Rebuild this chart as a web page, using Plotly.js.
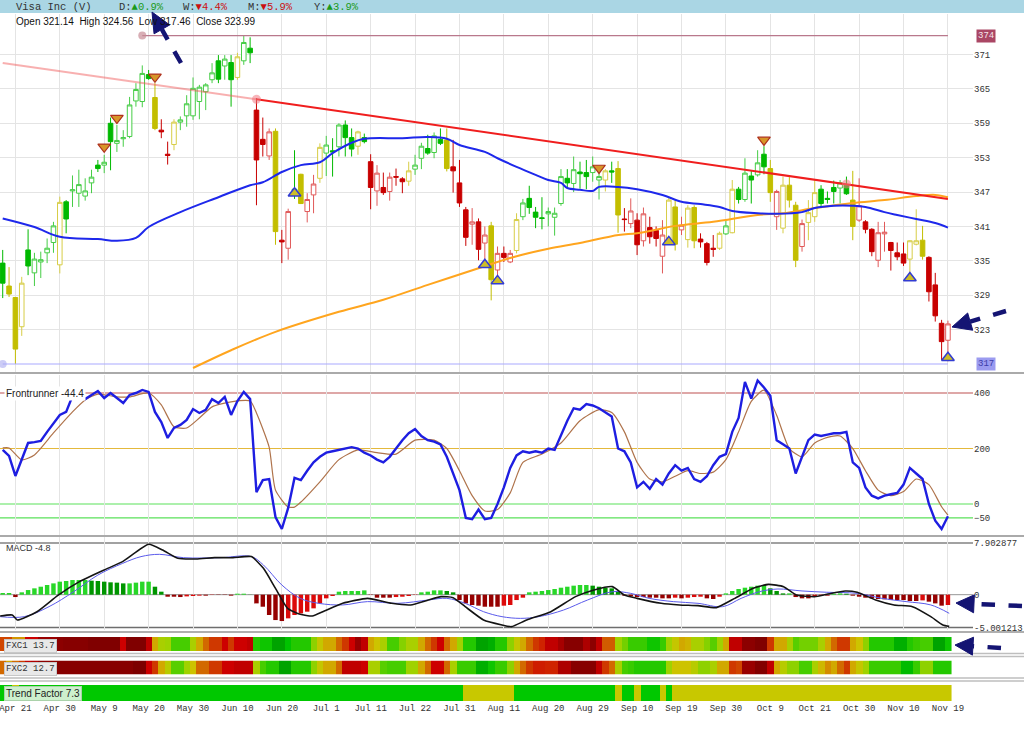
<!DOCTYPE html>
<html><head><meta charset="utf-8">
<script src="https://cdn.plot.ly/plotly-3.0.1.min.js"></script>
<style>html,body{margin:0;padding:0;background:#fff}#chart{width:1024px;height:735px}</style>
</head><body><div id="chart"></div>
<script>
// ---------------- DATA ----------------
const tickIdx = [2,9,16,23,30,37,44,51,58,65,72,79,86,93,100,107,114,121,128,135,142,149];
const tickLabels = ['Apr 21','Apr 30','May 9','May 20','May 30','Jun 10','Jun 20','Jul 1','Jul 11','Jul 22','Jul 31','Aug 11','Aug 20','Aug 29','Sep 10','Sep 19','Sep 30','Oct 9','Oct 21','Oct 30','Nov 10','Nov 19'];

const openP = [334.6,330.6,328.6,323.5,336.9,332.9,334.8,336.4,338.2,334.3,
345.3,347.2,346.8,346.3,348.6,351.7,351.7,359.0,355.5,356.3,
356.7,362.9,362.8,367.5,363.5,357.8,353.6,355.3,359.2,360.3,
360.3,362.8,364.5,366.6,369.9,369.0,369.6,367.0,369.9,372.1,
361.3,356.2,353.3,357.6,338.6,337.2,347.5,350.1,343.6,346.5,
349.4,353.8,354.2,354.9,358.7,356.5,355.0,356.5,352.3,347.2,
347.8,347.1,349.7,349.3,348.9,351.0,352.9,354.6,353.9,356.2,
356.1,351.4,348.6,343.9,341.4,341.8,338.1,341.1,333.4,336.3,
334.8,336.8,342.7,345.9,343.5,342.5,343.2,342.6,345.0,349.4,
348.5,350.5,350.4,350.4,349.1,349.1,350.7,351.1,342.3,341.5,
342.1,338.5,340.8,340.3,335.8,338.9,344.4,340.4,338.7,344.3,
338.8,338.0,337.2,337.2,339.7,339.9,347.5,345.7,349.8,350.0,
353.6,351.1,342.7,340.7,348.2,344.7,337.5,341.7,342.7,347.5,
345.9,347.8,347.7,348.2,345.6,342.1,341.8,340.5,335.1,339.7,
338.2,336.4,336.2,335.3,337.9,338.6,335.6,330.8,324.1,321.14];
const highP = [336.9,333.9,328.7,332.2,340.5,336.4,336.6,338.9,341.8,346.2,
345.6,349.9,350.9,349.4,350.9,352.6,353.5,360.0,358.7,357.8,
363.6,366.0,369.1,368.3,366.0,359.7,355.8,359.7,360.2,363.9,
367.0,365.7,366.0,369.5,370.9,370.9,370.9,371.3,374.3,374.0,
363.4,360.0,358.1,358.1,340.4,344.1,354.3,350.2,346.8,350.0,
355.5,356.8,356.4,359.0,359.5,358.1,357.7,357.2,353.6,351.7,
350.4,350.4,351.1,349.6,352.3,353.5,355.6,357.0,357.4,358.1,
358.1,356.1,352.6,344.4,344.2,342.4,341.0,341.8,337.5,337.5,
336.9,343.3,345.8,348.1,344.4,346.1,344.3,344.3,351.0,351.0,
353.2,352.3,352.6,353.2,351.5,351.0,352.3,352.4,344.2,345.9,
343.3,344.3,342.7,341.0,342.1,346.2,345.6,342.7,344.7,344.7,
339.8,338.3,339.5,340.1,342.1,349.1,347.9,352.9,350.8,354.3,
355.0,352.6,347.4,349.7,349.6,345.3,342.2,345.6,349.1,348.2,
347.1,349.0,349.1,349.7,350.7,349.4,342.1,340.7,341.8,341.8,
338.3,338.2,338.2,338.6,344.0,341.1,335.8,332.9,324.7,324.56];
const lowP = [328.5,328.7,317.0,321.9,332.5,330.6,332.0,334.6,336.4,332.8,
339.8,344.4,344.4,345.5,346.8,350.5,350.3,350.8,354.0,354.9,
356.4,361.9,361.8,366.6,357.8,356.4,351.8,354.3,357.8,358.4,
359.6,359.7,361.3,366.0,366.0,366.6,361.9,366.6,369.2,369.5,
344.7,353.2,352.6,337.8,334.6,335.2,345.8,344.9,341.7,343.3,
348.6,349.8,349.7,353.2,353.2,353.2,353.5,355.5,344.0,344.6,
346.5,345.5,348.1,346.8,348.1,350.0,351.0,353.5,352.9,355.2,
350.6,346.9,344.4,337.6,337.8,335.1,335.1,328.1,332.2,334.8,
334.6,336.3,342.1,343.2,340.7,340.5,341.0,339.4,344.6,347.6,
347.0,347.6,347.5,348.8,345.7,347.1,348.6,339.9,340.1,340.7,
336.0,337.5,338.0,337.5,332.8,338.6,336.8,339.5,337.3,337.2,
337.3,334.2,335.7,336.9,339.5,339.8,345.0,345.3,345.0,349.7,
350.1,345.3,340.4,339.8,344.3,333.9,336.6,338.6,341.8,344.2,
345.0,345.0,345.0,346.5,338.6,341.8,339.8,335.8,333.9,336.6,
333.3,335.1,334.1,332.9,337.7,335.2,327.9,324.4,317.7,317.46];
const closeP = [331.1,329.2,319.6,331.1,334.1,335.3,335.2,337.2,341.1,345.2,
342.3,347.4,348.3,347.2,349.6,351.1,352.2,355.8,356.0,356.5,
362.2,364.9,367.7,366.8,358.1,357.5,353.4,359.2,359.6,362.4,
365.1,365.3,365.7,367.8,366.7,370.2,366.6,370.6,373.1,371.3,
352.6,355.3,357.5,340.1,338.3,343.6,347.0,345.0,345.7,348.4,
354.8,355.2,354.0,358.7,356.5,354.5,357.5,355.8,347.8,350.3,
346.9,349.6,349.6,348.8,350.7,351.7,355.0,353.8,356.8,355.5,
351.1,350.7,345.1,339.1,341.8,337.0,339.5,331.7,336.3,335.6,
336.3,342.2,345.1,344.3,342.6,342.4,343.6,343.3,349.7,348.6,
350.9,350.2,349.7,351.4,349.7,350.7,350.5,343.0,342.2,343.7,
337.8,343.2,339.2,338.9,339.5,345.6,337.9,341.2,344.2,338.5,
338.3,334.7,337.0,339.8,341.1,347.5,345.7,350.3,349.1,352.1,
351.4,346.9,347.1,348.2,345.6,335.1,341.5,343.4,346.9,345.0,
345.7,347.1,348.6,346.7,341.0,344.6,340.5,336.6,339.9,340.0,
336.8,335.7,334.6,338.5,338.5,335.8,329.6,325.4,320.9,323.99];
// signal colour state of each candle: G green, Y yellow, R red
const candleState = ('GYYYGGGGGY'+'GGGGGGGGGG'+'GGGGYRRYGG'+'GGGGGGGYGG'+'RRRYRRGYRR'+
  'YGGGGGYGRR'+'RRRRYGGGGG'+'YRRRRRRYRR'+'RYGGGGGGGG'+'GGGGGYGYRR'+
  'RRRRRYYRYY'+'RRRYGYGGGG'+'GYRYYYRYYG'+'GGGGYRRRRR'+'RRRYYYRRRR').split('');

const ma50Idx = [0,5,9,15,18,21,23,28,34,39,41,44,47,50,52,55,57,63,67,70,72,76,78,81,84,86,88,89,91,93,94,97,100,104,107,110,113,115,119,122,126,128,131,134,136,139,141,144,147,149];
const ma50Val = [342.4,340.9,339.2,338.8,338.5,339.0,340.9,343.5,346.1,348.2,348.7,350.5,351.7,352.2,353.8,355.6,356.3,356.4,356.6,356.3,355.2,354.0,352.9,351.4,350.0,349.1,348.6,347.7,347.4,347.2,347.9,347.9,347.5,346.5,345.3,344.9,344.4,343.7,343.3,343.2,343.5,344.2,344.6,344.6,344.4,343.5,343.0,342.3,341.6,340.8];
const ma200Idx = [30,36,43,53,60,67,75,80,86,91,96,101,106,112,119,123,128,134,139,144,147,149];
const ma200Val = [316.3,319.4,322.6,326.1,328.2,330.8,333.7,335.5,337.1,338.1,339.3,340.0,341.1,341.8,343.0,343.3,344.2,345.1,345.6,346.3,346.5,346.1];
const trendLineIdx = [0,40,149];
const trendLineVal = [369.5,363.2,345.8];
const trendTouchIdx = [40,133];
const trendTouchVal = [363.2,348.4];
const highLevel = 374.3, highLevelStart = 22;
const lowLevel = 317.0, lowLevelStart = 0;

const sellIdx = [16,18,24,94,120];
const sellVal = [354.9,359.9,367.1,351.2,356.1];
const buyIdx = [46,76,78,105,143,149];
const buyVal = [346.8,334.3,331.5,338.3,332.0,318.1];

const frontrunner = [195,173,101,160,220,223,227,260,292,321,
332,389,386,378,393,407,382,400,382,364,
393,400,411,404,332,295,238,274,285,303,
342,328,339,378,364,386,321,371,404,378,
43,86,90,-47,-90,-14,94,86,120,150,
170,185,190,195,200,205,200,185,175,160,
150,170,200,230,255,270,245,230,225,215,
170,110,50,-50,-55,-20,-55,-50,0,60,
130,175,190,185,190,185,200,195,250,300,
345,340,360,355,345,330,315,200,190,150,
60,80,55,90,70,110,140,120,130,90,
80,100,140,170,180,260,310,440,380,445,
420,390,230,215,200,110,170,230,250,245,
250,255,255,260,150,130,60,30,20,30,
35,40,70,130,110,90,0,-60,-90,-44.4];
const frSigIdx = [0,1,3,5,8,11,13,15,18,20,23,25,27,29,31,33,36,39,40,42,43,45,46,47,50,53,56,59,62,65,68,70,72,74,76,78,80,82,85,88,91,94,96,98,100,102,104,106,108,110,112,114,116,118,120,122,124,126,128,130,132,134,136,138,140,142,144,146,148,149];
const frSigVal = [202,202,159,177,256,332,375,396,386,386,400,357,278,274,310,350,368,371,328,205,50,-11,-11,7,80,160,195,185,180,230,230,200,120,30,-25,-20,40,150,180,220,300,340,330,260,150,90,80,100,120,110,115,160,260,370,410,320,200,170,220,240,245,200,120,50,30,45,90,70,-10,-40];
const frLevels = [400,200,0,-50];

const macdIdx = [-0.4,1.5,2.3,5.4,8.7,12.1,16.0,18.9,23.0,25.2,27.6,30.5,33.4,36.3,39.2,41.1,43.0,44.9,46.9,48.8,50.7,53.6,57.5,61.3,64.3,67.1,69.1,71.0,72.9,75.8,78.7,80.2,82.6,86.4,90.3,93.2,96.1,98.0,100.0,103.8,106.7,109.6,112.5,115.4,118.3,120.7,123.1,125.1,128.0,129.9,132.8,134.7,137.6,140.5,143.4,146.3,148.2,149.2];
const macdVal = [-3.26,-3.11,-3.87,-2.6,-0.1,1.99,3.78,5.05,7.70,6.83,5.56,5.46,5.66,5.66,5.82,4.03,0.97,-2.08,-3.0,-3.26,-2.49,-1.32,-0.56,-1.32,-1.57,-0.81,-0.30,-0.45,-1.83,-3.87,-4.63,-4.89,-3.87,-2.6,-0.30,0.72,1.23,-0.05,-0.56,-1.32,-1.57,-1.68,-1.98,-0.56,0.97,1.58,1.23,-0.05,-0.30,0.06,0.57,0.37,-0.81,-1.57,-1.83,-3.36,-4.63,-4.85];
const macdSigIdx = [-0.4,3.4,7.3,11.2,15.0,18.9,21.8,24.7,28.5,34.3,39.2,41.1,44.0,46.9,49.8,53.6,57.5,62.3,67.1,70.0,72.9,75.8,78.7,81.6,84.5,88.4,92.2,96.1,99.0,101.9,105.7,109.6,113.5,116.4,119.3,122.2,126.0,129.9,134.7,138.6,142.4,146.3,149.2];
const macdSigVal = [-3.36,-3.36,-1.83,0.46,3.0,4.79,5.82,6.17,5.66,5.66,5.82,4.54,1.48,-0.56,-1.32,-1.57,-1.06,-1.32,-0.81,-0.56,-1.32,-2.6,-3.36,-3.62,-3.36,-2.35,-0.81,0.46,0.2,-0.56,-1.06,-1.32,-1.83,-0.56,0.46,0.87,0.57,0.37,0.2,-0.56,-1.06,-1.57,-2.85];
const macdHist = [0.26,0.26,-0.36,0.36,0.71,0.97,1.22,1.48,1.73,1.99,
2.09,2.24,2.24,2.24,2.14,2.09,1.99,1.89,1.84,1.73,
1.73,1.84,1.99,1.99,1.22,0.46,-0.31,-0.31,-0.36,-0.26,
-0.20,-0.15,-0.15,-0.05,-0.05,-0.05,-0.15,0.15,0.15,0.02,
-1.33,-1.84,-3.11,-3.88,-4.03,-3.62,-3.11,-2.86,-2.60,-2.09,
-1.33,-0.56,-0.20,0.46,0.56,0.56,0.56,0.66,-0.05,-0.46,
-0.46,-0.46,-0.36,-0.31,-0.20,-0.05,0.36,0.46,0.66,0.66,
0.56,0.36,-0.82,-1.33,-1.58,-1.68,-1.84,-1.84,-1.84,-1.68,
-1.58,-0.82,-0.46,0.36,0.46,0.56,0.71,0.87,1.07,1.22,
1.38,1.48,1.48,1.38,1.22,1.07,0.97,0.46,-0.15,-0.26,
-0.36,-0.36,-0.46,-0.46,-0.56,-0.56,-0.46,-0.56,-0.46,-0.36,
-0.31,-0.56,-0.66,-0.31,0.20,0.56,0.87,1.07,1.22,1.38,
1.48,0.97,0.56,0.20,0.20,-0.36,-0.56,-0.56,-0.31,-0.15,
-0.15,0.15,0.20,0.15,-0.15,-0.31,-0.46,-0.56,-0.66,-0.71,
-0.82,-0.82,-0.82,-0.97,-0.97,-0.87,-1.07,-1.33,-1.68,-1.58];
const macdTop = 7.902877, macdBottom = -5.001213;

const fxc1 = [30,30,42,42,20,20,12,12,12,10, 8,8,8,8,5,5,5,5,5,20, 5,5,5,18,45,58,60,70,70,70,
58,45,35,28,28,20,28,20,20,18, 75,78,78,88,88,80,75,75,75,62, 52,45,45,35,28,20,12,18,45,50,
58,70,70,63,58,58,45,35,28,20, 35,45,60,75,75,88,88,85,75,75, 62,52,45,35,28,25,18,18,14,8,
8,8,15,10,18,33,33,60,65,72, 72,72,78,78,72,60,52,45,47,58, 58,63,68,60,45,18,18,10,10,5,
5,28,45,45,58,68,65,65,65,58, 45,35,28,28,45,50,62,75,75,75, 75,85,85,75,72,70,70,88,88,78];
const fxc2 = [35,45,35,28,18,15,10,10,10,8, 8,8,8,8,8,8,8,8,8,8, 8,4,4,20,28,45,55,68,68,60,
50,35,35,28,28,20,20,18,18,18, 58,70,75,75,88,88,75,75,75,62, 52,45,45,35,18,18,18,20,58,58,
68,70,70,70,60,60,45,35,20,20, 35,58,72,72,72,85,85,78,72,72, 62,45,35,28,24,24,25,25,15,15,
8,8,8,8,18,28,35,58,70,72, 75,75,75,75,75,60,50,50,50,55, 62,62,58,45,45,28,30,12,12,6,
6,18,45,55,62,62,70,70,58,48, 40,45,35,28,45,52,60,72,72,72, 72,72,82,82,72,62,62,75,75,75];
const trendState = ('GGYGGGGGGG'+'GGGGGGGGGG'+'GGGGGGGGGG'+'GGGGGGGGGG'+'GGGGGGGGGG'+
  'GGGGGGGGGG'+'GGGGGGGGGG'+'GGGYYYYYYY'+'YGGGGGGGGG'+'GGGGGGGYGG'+
  'YGGGYGYYYY'+'YYYYYYYYYY'+'YYYYYYYYYY'+'YYYYYYYYYY'+'YYYYYYYYYY').split('');

const headerParts = [
  {x:14, t:'<span style="color:#333">Visa Inc (V)</span>'},
  {x:117, t:'<span style="color:#333">D:</span><span style="color:#1a9a1a">▲0.9%</span>'},
  {x:181, t:'<span style="color:#333">W:</span><span style="color:#cc1010">▼4.4%</span>'},
  {x:246, t:'<span style="color:#333">M:</span><span style="color:#cc1010">▼5.9%</span>'},
  {x:312, t:'<span style="color:#333">Y:</span><span style="color:#1a9a1a">▲3.9%</span>'}
];
const ohlcText = 'Open 321.14  High 324.56  Low 317.46  Close 323.99';

// ---------------- BUILD ----------------
const W = 973, H = 735;
const px = x => x / W, py = y => 1 - y / H;
const mono = 'Liberation Mono, DejaVu Sans Mono, monospace';
const sans = 'Arial, Liberation Sans, sans-serif';
const idx = openP.map((_, i) => i);
const traces = [];

const pal = {
  G: {inc: 'rgb(70,205,70)', dec: 'rgb(0,185,0)'},
  Y: {inc: 'rgb(215,205,70)', dec: 'rgb(195,190,0)'},
  R: {inc: 'rgb(225,90,90)', dec: 'rgb(200,0,0)'}
};
['G','Y','R'].forEach(k => {
  const xs=[],o=[],h=[],l=[],c=[];
  candleState.forEach((s,i) => { if (s===k) { xs.push(i); o.push(openP[i]); h.push(highP[i]); l.push(lowP[i]); c.push(closeP[i]); } });
  traces.push({type:'candlestick', x:xs, open:o, high:h, low:l, close:c, xaxis:'x2', yaxis:'y',
    increasing:{line:{color:pal[k].inc, width:1}, fillcolor:'#ffffff'},
    decreasing:{line:{color:pal[k].dec, width:1}, fillcolor:pal[k].dec},
    whiskerwidth:0, hoverinfo:'skip', showlegend:false});
});

traces.push({type:'scatter', mode:'lines', x:[lowLevelStart, idx[idx.length-1]], y:[lowLevel, lowLevel], xaxis:'x2', yaxis:'y',
  line:{color:'rgb(170,170,255)', width:1.2}, hoverinfo:'skip', showlegend:false});
traces.push({type:'scatter', mode:'markers', x:[lowLevelStart], y:[lowLevel], xaxis:'x2', yaxis:'y',
  marker:{color:'rgba(170,170,240,0.6)', size:8}, hoverinfo:'skip', showlegend:false});
traces.push({type:'scatter', mode:'lines', x:[highLevelStart, idx[idx.length-1]], y:[highLevel, highLevel], xaxis:'x2', yaxis:'y',
  line:{color:'rgb(185,120,140)', width:1.2}, hoverinfo:'skip', showlegend:false});
traces.push({type:'scatter', mode:'markers', x:[highLevelStart], y:[highLevel], xaxis:'x2', yaxis:'y',
  marker:{color:'rgba(200,140,150,0.7)', size:8}, hoverinfo:'skip', showlegend:false});

traces.push({type:'scatter', mode:'lines', x:ma200Idx, y:ma200Val, xaxis:'x2', yaxis:'y',
  line:{color:'rgb(255,165,30)', width:2, shape:'spline'}, hoverinfo:'skip', showlegend:false});
traces.push({type:'scatter', mode:'lines', x:ma50Idx, y:ma50Val, xaxis:'x2', yaxis:'y',
  line:{color:'rgb(30,40,235)', width:2, shape:'spline'}, hoverinfo:'skip', showlegend:false});
traces.push({type:'scatter', mode:'lines', x:trendLineIdx.slice(0,2), y:trendLineVal.slice(0,2), xaxis:'x2', yaxis:'y',
  line:{color:'rgba(240,80,80,0.45)', width:2}, hoverinfo:'skip', showlegend:false});
traces.push({type:'scatter', mode:'lines', x:trendLineIdx.slice(1), y:trendLineVal.slice(1), xaxis:'x2', yaxis:'y',
  line:{color:'rgb(240,30,30)', width:2}, hoverinfo:'skip', showlegend:false});
traces.push({type:'scatter', mode:'markers', x:trendTouchIdx, y:trendTouchVal, xaxis:'x2', yaxis:'y',
  marker:{color:'rgba(240,120,130,0.55)', size:9}, hoverinfo:'skip', showlegend:false});
traces.push({type:'scatter', mode:'markers', x:sellIdx, y:sellVal, xaxis:'x2', yaxis:'y',
  marker:{symbol:'triangle-down', size:11, color:'rgb(215,150,40)', line:{color:'rgb(175,50,30)', width:1.2}}, hoverinfo:'skip', showlegend:false});
traces.push({type:'scatter', mode:'markers', x:buyIdx, y:buyVal, xaxis:'x2', yaxis:'y',
  marker:{symbol:'triangle-up', size:11, color:'rgb(205,190,40)', line:{color:'rgb(50,60,210)', width:1.5}}, hoverinfo:'skip', showlegend:false});

traces.push({type:'scatter', mode:'lines', x:frSigIdx, y:frSigVal, xaxis:'x3', yaxis:'y2',
  line:{color:'rgb(175,115,75)', width:1.2, shape:'spline', smoothing:0.6}, hoverinfo:'skip', showlegend:false});
traces.push({type:'scatter', mode:'lines', x:idx, y:frontrunner, xaxis:'x3', yaxis:'y2',
  line:{color:'rgb(30,30,225)', width:2.4}, hoverinfo:'skip', showlegend:false});

const histColors = macdHist.map((v,i) => {
  const prev = i>0 ? macdHist[i-1] : v;
  if (v >= 0) return v >= prev ? 'rgb(40,215,40)' : 'rgb(0,150,0)';
  return v <= prev ? 'rgb(150,0,0)' : 'rgb(220,10,10)';
});
traces.push({type:'bar', x:idx, y:macdHist, xaxis:'x4', yaxis:'y3', marker:{color:histColors, line:{width:0}},
  hoverinfo:'skip', showlegend:false});
traces.push({type:'scatter', mode:'lines', x:macdSigIdx, y:macdSigVal, xaxis:'x4', yaxis:'y3',
  line:{color:'rgb(90,90,235)', width:1, shape:'spline'}, hoverinfo:'skip', showlegend:false});
traces.push({type:'scatter', mode:'lines', x:macdIdx, y:macdVal, xaxis:'x4', yaxis:'y3',
  line:{color:'rgb(20,20,20)', width:1.6, shape:'spline', smoothing:0.5}, hoverinfo:'skip', showlegend:false});

const fxcScale = [[0,'rgb(115,0,0)'],[0.1,'rgb(140,0,0)'],[0.2,'rgb(205,0,0)'],[0.3,'rgb(208,70,0)'],
  [0.4,'rgb(212,140,0)'],[0.5,'rgb(205,195,0)'],[0.6,'rgb(160,210,0)'],[0.7,'rgb(70,205,0)'],
  [0.8,'rgb(0,195,0)'],[0.9,'rgb(0,155,0)'],[1,'rgb(0,130,0)']];
traces.push({type:'heatmap', x:idx, y:[0], z:[fxc1], xaxis:'x5', yaxis:'y4', colorscale:fxcScale, zmin:0, zmax:100,
  showscale:false, hoverinfo:'skip'});
traces.push({type:'heatmap', x:idx, y:[0], z:[fxc2], xaxis:'x5', yaxis:'y5', colorscale:fxcScale, zmin:0, zmax:100,
  showscale:false, hoverinfo:'skip'});
traces.push({type:'heatmap', x:idx, y:[0], z:[trendState.map(s => s==='G'?1:0)], xaxis:'x', yaxis:'y6',
  colorscale:[[0,'rgb(200,200,0)'],[1,'rgb(0,200,0)']], zmin:0, zmax:1, showscale:false, hoverinfo:'skip'});

// ---------------- LAYOUT ----------------
const xr = [-0.427, 152.95];
const gridX = (anchor, grid) => ({range:xr, anchor:anchor, showgrid:grid, gridcolor:'#e4e4e4', gridwidth:1,
  tickvals:tickIdx, showticklabels:false, ticks:'', zeroline:false, showline:false, rangeslider:{visible:false}, fixedrange:true});
const dom = (top, bot) => [1 - bot / H, 1 - top / H];

const shapes = [];
shapes.push({type:'rect', xref:'paper', yref:'paper', x0:0, x1:px(1024), y0:py(13), y1:1, fillcolor:'rgb(170,214,228)', line:{width:0}, layer:'below'});
[[373,2,'rgb(170,170,170)'],[536,2,'rgb(170,170,170)'],[632,2,'rgb(175,175,175)'],[653.5,1.5,'rgb(190,190,190)'],
 [656.5,1.5,'rgb(190,190,190)'],[678,1.5,'rgb(190,190,190)'],[681,1.5,'rgb(190,190,190)']].forEach(s => {
  shapes.push({type:'line', xref:'paper', yref:'paper', x0:0, x1:px(1024), y0:py(s[0]), y1:py(s[0]), line:{color:s[2], width:s[1]}});
});
const frColors = ['rgb(190,80,80)','rgb(228,185,60)','rgb(90,225,90)','rgb(90,225,90)'];
frLevels.forEach((v,k) => shapes.push({type:'line', xref:'paper', yref:'y2', x0:0, x1:1, y0:v, y1:v, line:{color:frColors[k], width:1.2}, layer:'below'}));
[[macdTop,'rgb(130,130,130)',1.5],[0,'rgb(150,150,150)',1],[macdBottom,'rgb(110,110,110)',1.5]].forEach(s =>
  shapes.push({type:'line', xref:'paper', yref:'y3', x0:0, x1:1, y0:s[0], y1:s[0], line:{color:s[1], width:s[2]}, layer:'below'}));

const navy = 'rgb(20,20,115)';
function arrow(x0, y0, tx, ty, len, half) {
  const dx = tx - x0, dy = ty - y0, d = Math.hypot(dx, dy);
  const ux = dx / d, uy = dy / d;
  const bx = tx - ux * len, by = ty - uy * len;
  shapes.push({type:'line', xref:'paper', yref:'paper', x0:px(x0), y0:py(y0), x1:px(bx), y1:py(by), line:{color:navy, width:4.5, dash:'dash'}});
  const c1x = bx - uy * half, c1y = by + ux * half, c2x = bx + uy * half, c2y = by - ux * half;
  shapes.push({type:'path', xref:'paper', yref:'paper', fillcolor:navy, line:{color:navy, width:1},
    path:`M ${px(tx)} ${py(ty)} L ${px(c1x)} ${py(c1y)} L ${px(c2x)} ${py(c2y)} Z`});
}
arrow(181, 63, 152, 12, 20, 9);
arrow(1006, 311, 952, 327, 19, 9);
arrow(1022, 606, 956, 603, 18, 9);
arrow(1001, 648, 955, 645, 18, 9);

const annotations = [];
headerParts.forEach(p => annotations.push({xref:'paper', yref:'paper', x:px(p.x), y:py(6.5), xanchor:'left', yanchor:'middle',
  text:p.t, showarrow:false, font:{family:mono, size:10.5}}));
annotations.push({xref:'paper', yref:'paper', x:px(14), y:py(22), xanchor:'left', yanchor:'middle', text:ohlcText,
  showarrow:false, font:{family:sans, size:10, color:'#111'}});
annotations.push({xref:'paper', yref:'y', x:px(976), y:highLevel, xanchor:'left', yanchor:'middle', text:String(Math.floor(highLevel)),
  showarrow:false, bgcolor:'rgb(170,70,100)', borderpad:1, font:{family:mono, size:9, color:'#f4e4ea'}});
annotations.push({xref:'paper', yref:'y', x:px(976), y:lowLevel, xanchor:'left', yanchor:'middle', text:String(Math.round(lowLevel)),
  showarrow:false, bgcolor:'rgb(155,155,240)', borderpad:1, font:{family:mono, size:9, color:'rgb(60,60,170)'}});
annotations.push({xref:'paper', yref:'paper', x:px(4), y:py(393), xanchor:'left', yanchor:'middle',
  text:'Frontrunner ' + frontrunner[frontrunner.length-1].toFixed(1), showarrow:false, bgcolor:'#ffffff', font:{family:sans, size:10, color:'#222'}});
annotations.push({xref:'paper', yref:'paper', x:px(4), y:py(548), xanchor:'left', yanchor:'middle',
  text:'MACD -4.8', showarrow:false, font:{family:sans, size:9, color:'#333'}});
annotations.push({xref:'paper', yref:'paper', x:px(4), y:py(646), xanchor:'left', yanchor:'middle',
  text:'FXC1 13.7', showarrow:false, bgcolor:'rgb(232,232,232)', bordercolor:'rgb(200,200,200)', borderwidth:1, borderpad:1, font:{family:mono, size:9, color:'#333'}});
annotations.push({xref:'paper', yref:'paper', x:px(4), y:py(669), xanchor:'left', yanchor:'middle',
  text:'FXC2 12.7', showarrow:false, bgcolor:'rgb(232,232,232)', bordercolor:'rgb(200,200,200)', borderwidth:1, borderpad:1, font:{family:mono, size:9, color:'#333'}});
annotations.push({xref:'paper', yref:'paper', x:px(4), y:py(693), xanchor:'left', yanchor:'middle',
  text:'Trend Factor 7.3', showarrow:false, bgcolor:'rgb(205,240,205)', bordercolor:'rgb(170,210,170)', borderwidth:1, borderpad:1, font:{family:sans, size:10, color:'#222'}});

const layout = {
  width:1024, height:735, margin:{l:0, r:51, t:0, b:0}, paper_bgcolor:'#ffffff', plot_bgcolor:'#ffffff',
  showlegend:false, hovermode:false, bargap:0.3, boxgap:0.2, boxgroupgap:0.1,
  xaxis: Object.assign(gridX('y6', false), {showticklabels:true, ticktext:tickLabels, ticklabeloverflow:'allow',
    tickfont:{family:mono, size:9, color:'#333'}, ticklen:0}),
  xaxis2: gridX('y', true), xaxis3: gridX('y2', true), xaxis4: gridX('y3', true), xaxis5: gridX('y4', false),
  yaxis: {domain:dom(14,372), range:[315.6,378.07], side:'right', anchor:'x2', tickvals:[323,329,335,341,347,353,359,365,371],
    gridcolor:'#e4e4e4', zeroline:false, showline:false, ticks:'', tickfont:{family:mono, size:9, color:'#333'}, fixedrange:true},
  yaxis2: {domain:dom(375,535), range:[-111.7,464.9], side:'right', anchor:'x3', tickvals:frLevels, showgrid:false,
    zeroline:false, showline:false, ticks:'', tickfont:{family:mono, size:9, color:'#333'}, fixedrange:true},
  yaxis3: {domain:dom(537,630), range:[-5.40,8.82], side:'right', anchor:'x4', tickvals:[macdTop,0,macdBottom],
    ticktext:[String(macdTop),'0',String(macdBottom)], showgrid:false, zeroline:false, showline:false, ticks:'',
    tickfont:{family:mono, size:9, color:'#333'}, fixedrange:true},
  yaxis4: {domain:dom(637,651), range:[-0.5,0.5], anchor:'x5', showticklabels:false, showgrid:false, zeroline:false, ticks:''},
  yaxis5: {domain:dom(660.5,674.5), range:[-0.5,0.5], anchor:'x5', showticklabels:false, showgrid:false, zeroline:false, ticks:''},
  yaxis6: {domain:dom(685,701), range:[-0.5,0.5], anchor:'x', showticklabels:false, showgrid:false, zeroline:false, ticks:''},
  shapes: shapes, annotations: annotations
};
Plotly.newPlot('chart', traces, layout, {staticPlot:true, displayModeBar:false});
</script></body></html>
